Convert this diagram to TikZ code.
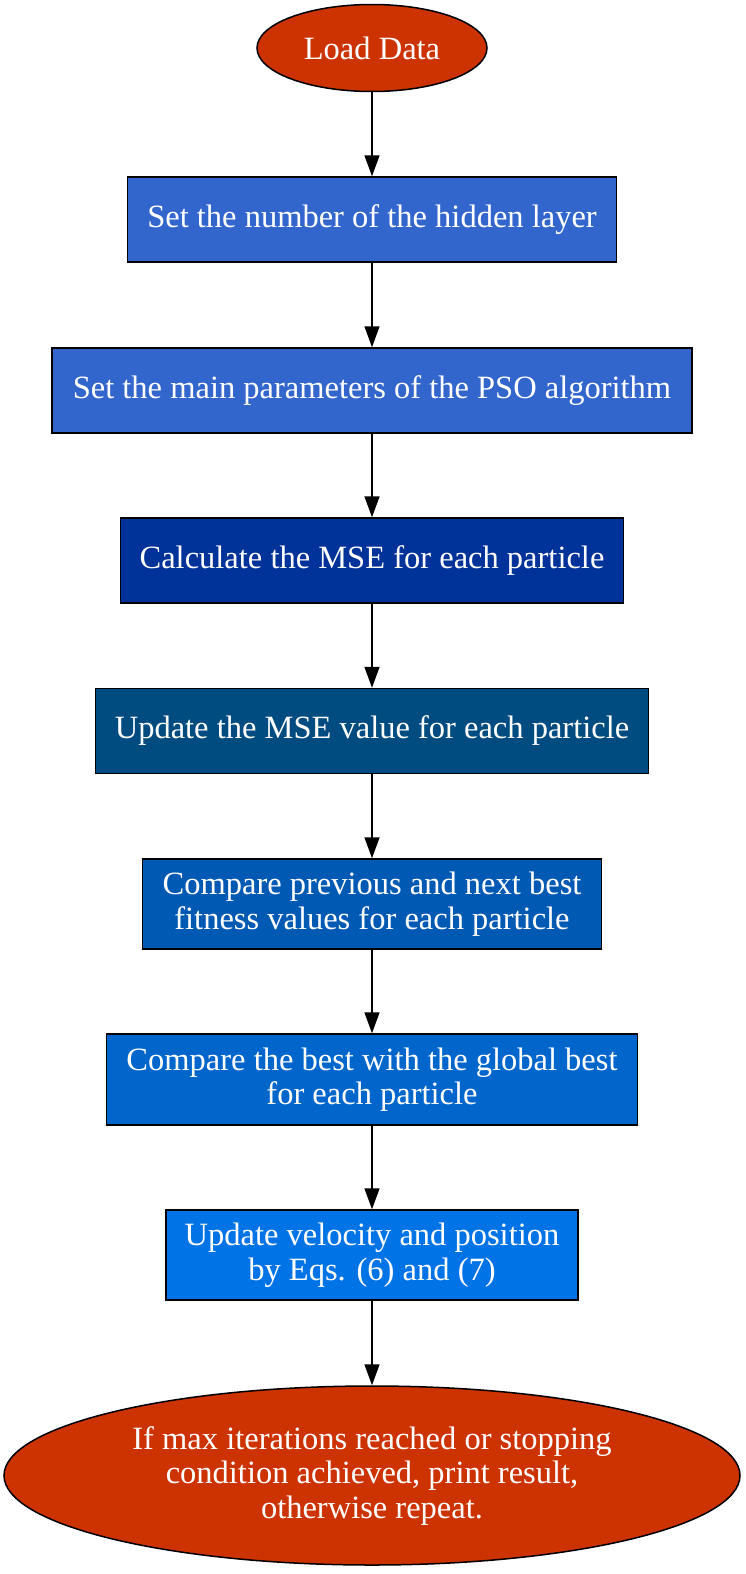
\documentclass[tikz,border=0pt]{standalone}
\usepackage{fontspec}
\setmainfont{Liberation Serif}
\usetikzlibrary{arrows.meta,shapes.geometric}
\definecolor{termred}{HTML}{CC3300}
\definecolor{setblue}{HTML}{3366CC}
\definecolor{calcblue}{HTML}{003399}
\definecolor{updblue}{HTML}{004C80}
\definecolor{cmpblue}{HTML}{0059B3}
\definecolor{gbblue}{HTML}{0066CC}
\definecolor{velblue}{HTML}{0073E6}

\begin{document}
\begin{tikzpicture}[x=1pt,y=-1pt,line width=1.5pt,>={Triangle[length=21pt,width=15pt]}]
\tikzset{
  txt/.style={text=white,font=\fontsize{32.5}{34.5}\selectfont,align=center,inner sep=0pt},
  stepbox/.style={txt,rectangle,draw=black,minimum height=85pt},
  endbox/.style={txt,ellipse,draw=black},
}
\def\cx{372} % centre line
\useasboundingbox (0,0) rectangle (746,1574);
% ---- terminals and steps, top to bottom ----
\node[endbox,fill=termred,minimum width=230pt,minimum height=87pt] (load) at (\cx,48) {Load Data};
\node[stepbox,fill=setblue,minimum width=489pt] (hidden) at (\cx,219.5) {Set the number of the hidden layer};
\node[stepbox,fill=setblue,minimum width=640pt] (param) at (\cx,390.5) {Set the main parameters of the PSO algorithm};
\node[stepbox,fill=calcblue,minimum width=503pt] (calc) at (\cx,560.5) {Calculate the MSE for each particle};
\node[stepbox,fill=updblue,minimum width=553pt] (upd) at (\cx,731) {Update the MSE value for each particle};
\node[stepbox,fill=cmpblue,minimum width=459pt,minimum height=90pt] (prev) at (\cx,904) {Compare previous and next best\\fitness values for each particle};
\node[stepbox,fill=gbblue,minimum width=531pt,minimum height=91pt] (gbest) at (\cx,1079.5) {Compare the best with the global best\\for each particle};
\node[stepbox,fill=velblue,minimum width=412pt,minimum height=90pt] (vel) at (\cx,1255) {Update velocity and position\\by Eqs. (6) and (7)};
\node[endbox,fill=termred,minimum width=736pt,minimum height=179pt] (stop) at (\cx,1475.5) {If max iterations reached or stopping\\condition achieved, print result,\\otherwise repeat.};
% ---- connectors ----
\foreach \a/\b in {load/hidden,hidden/param,param/calc,calc/upd,upd/prev,prev/gbest,gbest/vel,vel/stop}
  \draw[->] (\a.south) -- (\b.north);
\end{tikzpicture}
\end{document}
